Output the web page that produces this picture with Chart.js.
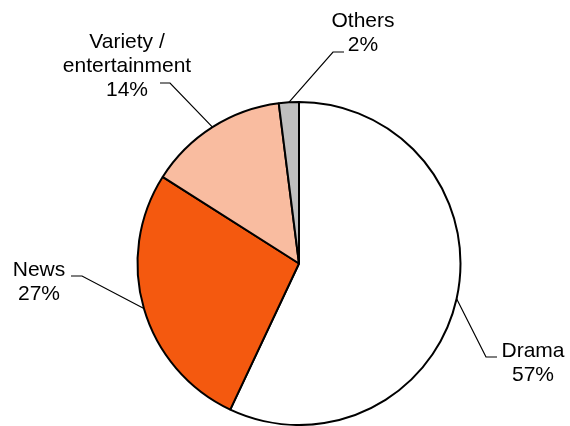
<!DOCTYPE html>
<html>
<head>
<meta charset="utf-8">
<script src="https://cdn.jsdelivr.net/npm/chart.js@4.4.0/dist/chart.umd.min.js"></script>
<style>
html,body{margin:0;padding:0;background:#fff;}
#wrap{width:570px;height:426px;position:relative;}
</style>
</head>
<body>
<div id="wrap"><canvas id="c" width="570" height="426"></canvas></div>
<script>
const categories = ["Drama", "News", "Variety / entertainment", "Others"];
const labelLines = [["Drama"], ["News"], ["Variety /", "entertainment"], ["Others"]];
const shares = [57, 27, 14, 2];
const colors = ["#FFFFFF", "#F4590F", "#F9BCA0", "#BFBFBF"];

// label layout (text centre of first line, line step, leader elbow and end)
const labelLayout = [
  {x: 533, y: 351, elbow: [486, 357], end: [497, 357]},
  {x: 39,  y: 270, elbow: [82, 276],  end: [71, 276]},
  {x: 127, y: 42,  elbow: [170, 83],  end: [160, 83]},
  {x: 363, y: 21,  elbow: [333, 52],  end: [344, 52]}
];
const lineStep = 24;

const labelPlugin = {
  id: 'calloutLabels',
  afterDatasetsDraw(chart) {
    const ctx = chart.ctx;
    const meta = chart.getDatasetMeta(0);
    ctx.save();
    meta.data.forEach((arc, i) => {
      const p = arc.getProps(['x','y','startAngle','endAngle','outerRadius'], true);
      const mid = (p.startAngle + p.endAngle) / 2;
      const ax = p.x + Math.cos(mid) * p.outerRadius;
      const ay = p.y + Math.sin(mid) * p.outerRadius;
      const L = labelLayout[i];
      ctx.beginPath();
      ctx.moveTo(ax, ay);
      ctx.lineTo(L.elbow[0], L.elbow[1]);
      ctx.lineTo(L.end[0], L.end[1]);
      ctx.strokeStyle = '#000';
      ctx.lineWidth = 1.2;
      ctx.stroke();
      ctx.fillStyle = '#000';
      ctx.font = '21px "Liberation Sans", Arial, sans-serif';
      ctx.textAlign = 'center';
      ctx.textBaseline = 'middle';
      const lines = labelLines[i].concat([shares[i] + '%']);
      lines.forEach((t, k) => ctx.fillText(t, L.x, L.y + k * lineStep));
    });
    ctx.restore();
  }
};

new Chart(document.getElementById('c'), {
  type: 'pie',
  data: {
    labels: categories,
    datasets: [{
      data: shares,
      backgroundColor: colors,
      borderColor: '#000',
      borderWidth: 2,
      borderAlign: 'center'
    }]
  },
  options: {
    responsive: false,
    animation: false,
    layout: {padding: {top: 101, bottom: 0, left: 136, right: 108}},
    plugins: {legend: {display: false}, tooltip: {enabled: false}}
  },
  plugins: [labelPlugin]
});
</script>
</body>
</html>
